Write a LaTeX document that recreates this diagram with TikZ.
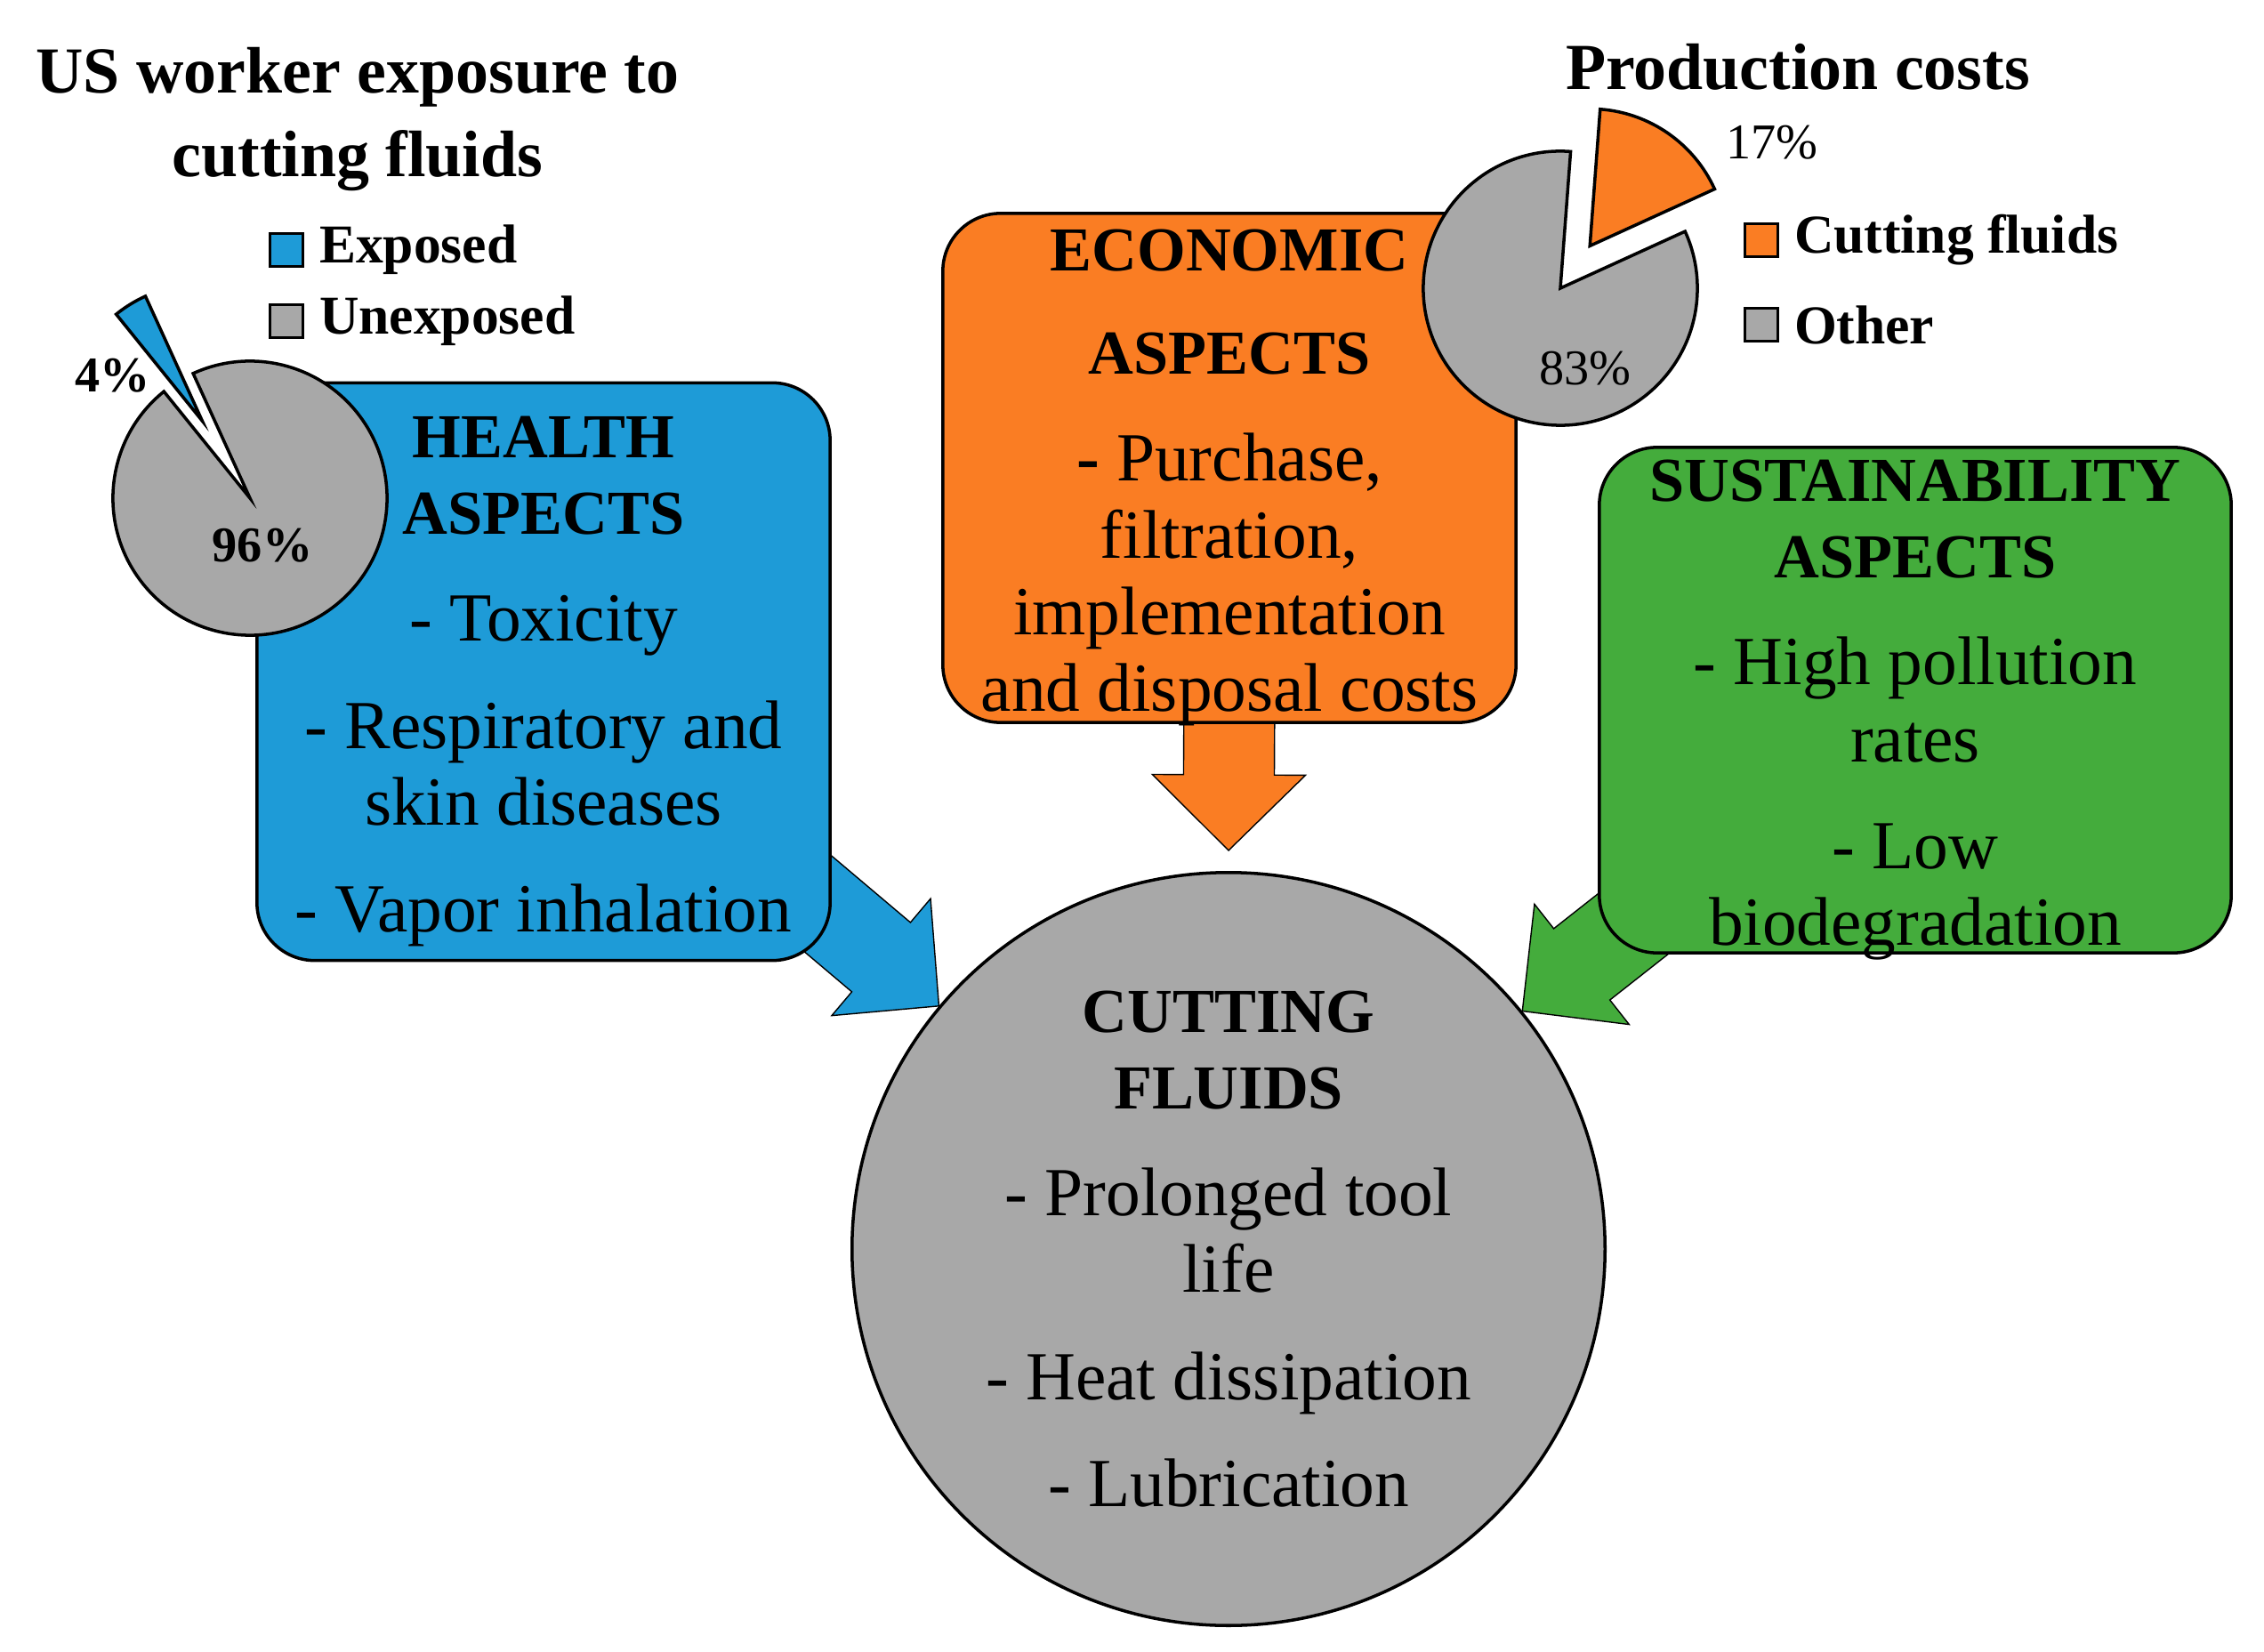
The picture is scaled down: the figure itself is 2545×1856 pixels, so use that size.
\documentclass[tikz,border=0pt]{standalone}
\usepackage{fontspec}
\setmainfont{Liberation Serif}
\usepackage{xcolor}
\usetikzlibrary{positioning, calc, backgrounds}

\definecolor{healthblue}{RGB}{30,155,215}
\definecolor{econorange}{RGB}{250,125,35}
\definecolor{sustgreen}{RGB}{68,172,60}
\definecolor{piegray}{RGB}{168,168,168}

\newcommand{\boxhead}[1]{{\fontsize{20}{24.5}\selectfont\bfseries #1}}
\newcommand{\itemgap}{\\[9.7pt]}
\newcommand{\topstrut}{\rule{0pt}{19.5pt}}
% block arrow from tail #2 to tip #3
\newcommand{\blockarrow}[3]{%
  \coordinate (#3base) at ($(#3)!0.85cm!(#2)$);
  \filldraw[fill=#1] ($(#2)!0.51cm!90:(#3)$) -- ($(#3base)!0.51cm!90:(#3)$)
    -- ($(#3base)!0.86cm!90:(#3)$) -- (#3) -- ($(#3base)!0.86cm!-90:(#3)$)
    -- ($(#3base)!0.51cm!-90:(#3)$) -- ($(#2)!0.51cm!-90:(#3)$) -- cycle;}

\begin{document}
\begin{tikzpicture}[x=0.01cm, y=0.01cm, line width=1pt,
    aspectbox/.style={draw, rounded corners=0.65cm, align=center, inner xsep=0pt, inner ysep=-0.5cm, font=\fontsize{22}{24.5}\selectfont},
    swatch/.style={draw, minimum size=0.37cm, inner sep=0pt},
    legendtext/.style={font=\fontsize{17.5}{20}\selectfont\bfseries, inner sep=0pt},
    pct/.style={font=\fontsize{16}{18}\selectfont, inner sep=0pt},
    charttitle/.style={font=\fontsize{21}{26.5}\selectfont\bfseries, align=center, inner sep=0pt}]
    \useasboundingbox (0,0) rectangle (2545,1856);

    % Cutting fluids and the three aspects
    \node[aspectbox, circle, inner sep=0pt, fill=piegray, minimum size=8.46cm] (fluids) at (1381,452)
        {\boxhead{CUTTING}\\\boxhead{FLUIDS}\itemgap - Prolonged tool\\life\itemgap - Heat dissipation\itemgap - Lubrication};
    \node[aspectbox, fill=healthblue, minimum width=6.44cm, minimum height=6.49cm] (health) at (611,1101)
        {\topstrut\boxhead{HEALTH}\\\boxhead{ASPECTS}\itemgap - Toxicity\itemgap - Respiratory and\\skin diseases\itemgap - Vapor inhalation};
    \node[aspectbox, fill=econorange, minimum width=6.44cm, minimum height=5.72cm] (econ) at (1382,1330)
        {\topstrut\boxhead{ECONOMIC}\\[8.5pt]\boxhead{ASPECTS}\itemgap \textbf{-} Purchase,\\filtration,\\implementation\\and disposal costs};
    \node[aspectbox, fill=sustgreen, minimum width=7.10cm, minimum height=5.68cm] (sust) at (2153,1069)
        {\topstrut\boxhead{SUSTAINABILITY}\\\boxhead{ASPECTS}\itemgap - High pollution\\rates\itemgap - Low\\biodegradation};

    % Arrows into the circle
    \coordinate (healthtip) at (fluids.140);
    \coordinate (healthtail) at ($(healthtip)+(139.8:3cm)$);
    \coordinate (econtip) at ($(fluids.north)+(0,23)$);
    \coordinate (econtail) at ($(econ.south)+(0,40)$);
    \coordinate (susttip) at (fluids.39);
    \coordinate (susttail) at ($(susttip)+(38.2:3cm)$);
    \begin{scope}[on background layer]
        \blockarrow{healthblue}{healthtail}{healthtip}
        \blockarrow{econorange}{econtail}{econtip}
        \blockarrow{sustgreen}{susttail}{susttip}
    \end{scope}

    % Exposure pie
    \coordinate (exppie) at (281,1296);
    \filldraw[fill=piegray] (exppie) -- ++(128.9:1.54cm) arc[start angle=128.9, end angle=474.5, radius=1.54cm] -- cycle;
    \filldraw[fill=healthblue] ($(exppie)+(121.7:1.02cm)$) -- ++(114.5:1.54cm) arc[start angle=114.5, end angle=128.9, radius=1.54cm] -- cycle;
    \node[pct, font=\fontsize{16}{18}\selectfont\bfseries] (fourpct) at (127,1434) {4\%};
    \node[pct, font=\fontsize{16}{18}\selectfont\bfseries] (ninetysixpct) at (295,1243) {96\%};

    % Cost pie
    \coordinate (costpie) at (1754,1532);
    \filldraw[fill=piegray] (costpie) -- ++(85.7:1.54cm) arc[start angle=85.7, end angle=384.5, radius=1.54cm] -- cycle;
    \filldraw[fill=econorange] ($(costpie)+(55.1:0.58cm)$) -- ++(24.5:1.54cm) arc[start angle=24.5, end angle=85.7, radius=1.54cm] -- cycle;
    \node[pct] (seventeenpct) at (1992,1696) {17\%};
    \node[pct] (eightythreepct) at (1782,1442) {83\%};

    % Titles and legends
    \node[charttitle] (exptitle) at (402,1722) {US worker exposure to\\cutting fluids};
    \node[charttitle] (costtitle) at (2021,1781) {Production costs};
    \node[swatch, fill=healthblue] (exposedkey) at (322,1575) {};
    \node[legendtext, right=0.15cm of exposedkey] (exposed) {Exposed};
    \node[swatch, fill=piegray] (unexposedkey) at (322,1495) {};
    \node[legendtext, right=0.15cm of unexposedkey] (unexposed) {Unexposed};
    \node[swatch, fill=econorange] (fluidskey) at (1980,1586) {};
    \node[legendtext, right=0.15cm of fluidskey] (fluidslabel) {Cutting fluids};
    \node[swatch, fill=piegray] (otherkey) at (1980,1491) {};
    \node[legendtext, right=0.15cm of otherkey] (other) {Other};
\end{tikzpicture}
\end{document}
